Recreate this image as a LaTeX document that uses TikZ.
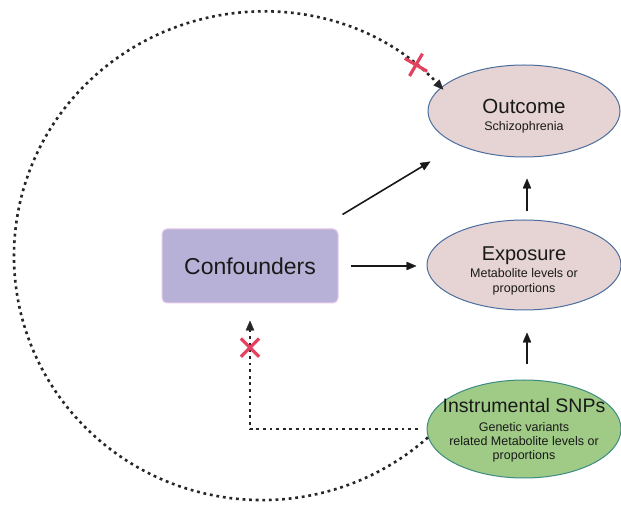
\documentclass[tikz,border=0pt]{standalone}
\usepackage{fontspec}
\setmainfont{Liberation Sans}
\usepackage{xcolor}
\usepackage{tikz}
\usetikzlibrary{positioning,arrows.meta,shapes.geometric,shapes.misc}

\definecolor{ovalfill}{HTML}{E5D4D3}
\definecolor{ovalline}{HTML}{4C6E9E}
\definecolor{snpfill}{HTML}{A0CB87}
\definecolor{snpline}{HTML}{3B8B82}
\definecolor{conffill}{HTML}{B8B1D7}
\definecolor{confline}{HTML}{E6C8EA}
\definecolor{xred}{HTML}{E2425F}

\newcommand{\hdfont}{\fontsize{20.5}{22}\selectfont}
\newcommand{\subfont}{\fontsize{12.5}{14}\selectfont}
% strut that lowers a node's text block
\newcommand{\lift}[1]{\rule{0pt}{#1}}

\begin{document}
\begin{tikzpicture}[x=1pt,y=1pt,
        oval/.style={ellipse,draw=ovalline,fill=ovalfill,line width=1pt,
                     inner xsep=-20pt,inner ysep=0pt,align=center,
                     font=\subfont,text=black!90},
        confbox/.style={rectangle,rounded corners=5pt,draw=confline,fill=conffill,
                        line width=1pt,font=\fontsize{23}{26}\selectfont,text=black!90},
        arr/.style={line width=1.6pt,black!90,
                    -{Triangle[length=10pt,width=8.5pt,line width=0.4pt]}},
        dotln/.style={line width=2.6pt,black!85,dash pattern=on 2.8pt off 3.8pt,
                      -{Triangle[length=10pt,width=8.5pt,line width=0.4pt]}},
        xmark/.style={cross out,solid,draw=xred,line width=3.2pt,minimum size=15pt,
                      inner sep=0pt}]
        \useasboundingbox (0,0) rectangle (621,506);
        % nodes
        \node[oval,minimum width=192pt,minimum height=92pt] (outc) at (524,395)
          {\lift{25pt}\hdfont Outcome\\[3pt]\subfont Schizophrenia};
        \node[oval,minimum width=194pt,minimum height=90pt] (expo) at (524,241)
          {\lift{26.5pt}\fontsize{20}{22}\selectfont Exposure\\[3pt]\subfont Metabolite levels or\\[1pt]\subfont proportions};
        \node[oval,fill=snpfill,draw=snpline,minimum width=194pt,minimum height=98pt]
          (snp) at (524,77)
          {\lift{17.5pt}\fontsize{19.5}{22}\selectfont Instrumental SNPs\\[5pt]\subfont Genetic variants\\[0pt]
           \subfont related Metabolite levels or\\[0pt]\subfont proportions};
        \node[confbox,minimum width=176pt,minimum height=74pt] (conf) at (250,240)
          {Confounders};
        % solid arrows
        \draw[arr] (conf.north east) ++(4,14) -- ++(88,53);
        \draw[arr,shorten <=12pt,shorten >=10pt] (conf.east) -- (conf.east -| expo.west);
        \foreach \a/\b/\s/\e in {expo/outc/8/21,snp/expo/15/22}
          \draw[arr,shorten <=\s pt,shorten >=\e pt] ([xshift=3pt]\a.north) -- ([xshift=3pt]\b.south);
        % dotted links
        \draw[dotln] ([xshift=-9pt]snp.west) -| ([yshift=-17pt]conf.south)
          node[xmark,pos=0.875] (x1) {};
        \draw[dotln] (snp.185) arc[start angle=-48,end angle=-317,x radius=248pt,y radius=244pt]
          node[xmark,rotate=15,pos=0.968] (x2) {};
      \end{tikzpicture}
\end{document}
